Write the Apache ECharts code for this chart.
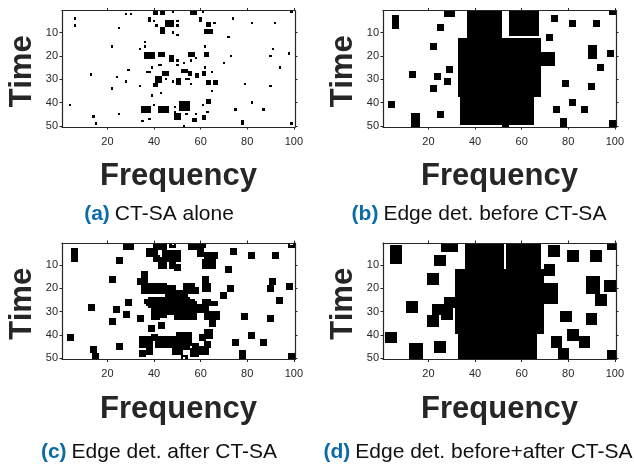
<!DOCTYPE html>
<html><head><meta charset="utf-8">
<style>html,body{margin:0;padding:0;background:#fff}#c{width:634px;height:464px}</style>
<script src="https://cdn.jsdelivr.net/npm/echarts@6/dist/echarts.min.js"></script>
</head><body><div id="c"></div>
<script>
// Every entry is a black block: [firstFrequency, lastFrequency, firstTime, lastTime]
const panelA = [[28,28,2,2],[30,30,2,2],[6,6,4,4],[6,6,7,7],[25,25,8,8],[38,38,4,5],[40,40,5,5],[41,41,7,7],[40,41,1,2],[43,44,1,2],[48,48,1,1],[45,48,5,7],[50,50,5,5],[50,50,7,7],[43,44,8,10],[48,48,10,10],[50,50,11,11],[56,58,1,2],[61,61,1,1],[60,60,4,5],[63,64,6,7],[66,66,6,6],[62,65,9,10],[74,74,4,4],[82,82,6,6],[92,92,6,6],[72,72,12,12],[99,99,1,1],
[22,22,16,16],[36,36,14,14],[36,36,16,16],[34,34,17,17],[62,62,16,16],[91,91,17,17],[98,98,19,19],[90,90,20,20],[73,73,20,20],[36,40,19,21],[42,44,19,20],[47,48,20,22],[55,57,19,20],[62,63,19,20],[56,56,22,22],[58,58,21,21],[50,50,22,22],[53,53,23,23],[50,50,24,24],[42,43,24,24],[39,39,25,25],[62,62,25,25],[70,70,23,23],[94,94,25,25],[29,29,26,26],
[52,54,26,27],[37,38,27,27],[44,46,27,28],[55,56,27,28],[61,62,27,28],[65,65,27,27],[58,59,28,29],[13,13,28,28],[24,24,29,29],[41,43,29,31],[45,45,30,30],[28,28,31,31],[48,48,31,31],[50,51,30,32],[54,55,30,30],[56,56,32,32],[63,64,31,32],[66,67,31,32],[40,41,32,33],[34,34,33,33],[79,79,32,32],[90,90,33,33],[22,22,34,34],[65,65,35,35],[43,43,36,36],[39,39,37,37],[63,64,39,40],[82,82,40,40],[4,4,41,41],[40,40,41,41],[61,61,41,41],[49,49,42,42],[51,55,40,43],[35,38,42,44],[42,46,42,44],[49,49,44,44],[75,75,43,43],[87,87,43,43],[63,63,44,44],[49,51,45,47],[25,25,45,45],[54,54,45,45],[58,58,45,45],[14,14,46,46],[38,38,47,47],[61,62,46,47],[57,58,47,48],[35,35,48,48],[78,78,48,49],[15,15,49,49],[53,53,50,50],[99,99,49,49]];

const panelB = [[37,51,1,12],[55,67,1,11],[33,68,13,37],[69,74,19,24],[34,65,38,49],[52,54,50,50],
[5,7,3,8],[27,31,1,3],[24,26,7,9],[21,23,15,17],[12,14,27,29],[28,30,25,27],[23,25,28,30],[27,29,30,32],[21,23,33,35],[3,5,40,42],[24,26,44,46],[13,16,45,50],
[73,75,3,5],[81,83,5,7],[91,93,5,7],[71,73,11,13],[98,100,1,2],[89,92,16,21],[97,99,18,20],[93,95,24,26],[78,80,31,33],[89,91,32,34],[81,83,39,41],[74,76,42,44],[86,88,42,44],[77,79,47,50],[98,100,48,50]];

const panelC = [[27,31,1,3],[5,7,3,8],[24,26,7,9],[37,39,3,6],[39,41,4,6],[40,42,6,8],[40,45,1,3],[47,49,2,2],[47,47,1,1],[49,49,1,1],[44,49,4,8],[49,51,4,8],[42,45,7,11],[47,49,9,11],[49,51,10,12],[55,59,1,3],[60,62,1,2],[59,61,3,6],[62,65,5,8],[65,67,5,7],[61,66,8,11],[73,75,3,5],[81,83,5,7],[91,93,5,7],[71,73,11,13],[98,100,2,2],[98,98,1,1],[100,100,1,1],
[21,23,15,17],[35,37,13,15],[35,37,15,17],[33,35,16,18],[61,63,15,17],[90,92,16,18],[97,99,18,20],[89,91,19,21],[72,74,19,21],[35,41,18,21],[41,45,18,21],[46,49,19,21],[35,52,22,22],[45,54,23,23],[53,57,18,22],[49,53,21,21],[57,59,20,22],[61,64,18,21],[69,71,22,24],[93,95,24,26],[28,30,25,27],
[38,55,24,24],[36,57,25,25],[36,58,26,26],[37,67,27,27],[38,63,28,28],[61,64,25,25],[61,67,26,26],[39,63,29,29],[39,62,30,30],[39,58,31,31],[39,45,32,32],[39,42,33,33],[12,14,27,29],[23,25,28,30],[27,29,30,32],[49,52,32,33],[53,58,32,33],[62,65,30,33],[65,68,30,33],[33,35,32,34],[78,80,31,33],[89,91,32,34],[21,23,33,35],[64,66,34,36],[42,44,35,37],[38,40,36,38],[62,65,38,41],[81,83,39,41],[3,5,40,42],[39,41,40,42],[60,62,40,42],[48,50,41,43],[50,56,39,44],[34,39,41,45],[41,47,41,45],[48,50,43,45],[74,76,42,44],[86,88,42,44],[62,64,43,45],[48,52,44,48],[24,26,44,46],[53,55,44,46],[57,59,44,46],[13,15,45,47],[37,39,46,48],[60,63,45,48],[56,59,46,49],[34,36,47,49],[77,79,47,50],[14,16,48,50],[52,54,49,49],[52,52,50,50],[54,54,50,50],[98,100,48,50]];

const panelD = [[36,52,1,11],[54,68,1,11],[32,69,12,39],[70,75,18,26],[70,74,10,14],[33,66,40,50],
[4,8,2,9],[26,32,1,4],[23,27,6,10],[20,24,14,18],[11,15,26,30],[27,31,24,28],[22,26,27,31],[26,30,29,33],[20,24,32,36],[2,6,39,43],[23,27,43,47],[12,17,44,50],
[72,76,2,6],[80,84,4,8],[90,94,4,8],[97,100,1,3],[88,93,15,22],[96,100,17,21],[92,96,23,27],[77,81,30,34],[88,92,31,35],[80,84,38,42],[73,77,41,45],[85,89,41,45],[76,80,46,50],[97,100,47,50]];

const freqTicks = [20, 40, 60, 80, 100];
const timeTicks = [10, 20, 30, 40, 50];
const captionTags = ['(a)', '(b)', '(c)', '(d)'];
const captionTexts = ['CT-SA alone', 'Edge det. before CT-SA', 'Edge det. after CT-SA', 'Edge det. before+after CT-SA'];
const panels = [panelA, panelB, panelC, panelD];

const layout = [
  {l: 62, t: 10.5, cx: 154, cy: 199},
  {l: 383, t: 10.5, cx: 474, cy: 199},
  {l: 62, t: 243, cx: 154, cy: 437},
  {l: 383, t: 243, cx: 473, cy: 437}
];
const W = 233, H = 116.5, ink = '#262626', font = '"Liberation Sans", Arial, sans-serif';

const grid = [], xAxis = [], yAxis = [], series = [], title = [];
panels.forEach((p, i) => {
  const g = layout[i];
  grid.push({left: g.l, top: g.t, width: W, height: H, show: false});
  const line = {show: true, onZero: false, lineStyle: {color: ink, width: 1.2}};
  const tick = vals => ({show: true, length: 2.5, inside: false, customValues: vals, lineStyle: {color: ink, width: 1}});
  const base = {type: 'value', gridIndex: i, splitLine: {show: false}, minorTick: {show: false}, z: 5};
  const xb = {...base, min: 0.5, max: 100.5, axisLine: line, axisTick: tick(freqTicks)};
  const yb = {...base, min: 0.5, max: 50.5, inverse: true, axisLine: line, axisTick: tick(timeTicks)};
  xAxis.push({...xb, position: 'bottom',
    axisLabel: {customValues: freqTicks, color: ink, fontSize: 11, fontFamily: font, margin: 9},
    name: 'Frequency', nameLocation: 'middle', nameGap: 34,
    nameTextStyle: {color: ink, fontSize: 31, fontWeight: 'bold', fontFamily: font}});
  xAxis.push({...xb, position: 'top', axisLabel: {show: false}});
  yAxis.push({...yb, position: 'left',
    axisLabel: {customValues: timeTicks, color: ink, fontSize: 11, fontFamily: font, margin: 4},
    name: 'Time', nameLocation: 'middle', nameGap: 24,
    nameTextStyle: {color: ink, fontSize: 31, fontWeight: 'bold', fontFamily: font, padding: [0, 5, 0, 0]}});
  yAxis.push({...yb, position: 'right', axisLabel: {show: false}});
  series.push({
    type: 'custom', xAxisIndex: i * 2, yAxisIndex: i * 2, clip: true, silent: true,
    data: p, encode: {x: [0, 1], y: [2, 3]},
    renderItem: (params, api) => {
      const a = api.coord([api.value(0) - 0.5, api.value(2) - 0.5]).map(Math.round);
      const b = api.coord([api.value(1) + 0.5, api.value(3) + 0.5]).map(Math.round);
      return {type: 'rect', shape: {x: a[0], y: a[1], width: b[0] - a[0], height: b[1] - a[1]}, style: {fill: '#000'}};
    }
  });
  title.push({
    text: '{b|' + captionTags[i] + '} {n|' + captionTexts[i] + '}',
    left: g.cx, top: g.cy, textAlign: 'center',
    textStyle: {rich: {
      b: {color: '#0a6ba8', fontWeight: 'bold', fontSize: 21, fontFamily: font},
      n: {color: '#111', fontWeight: 'normal', fontSize: 21, fontFamily: font}
    }}
  });
});
const chart = echarts.init(document.getElementById('c'), null, {renderer: 'canvas'});
chart.setOption({animation: false, backgroundColor: '#fff', title, grid, xAxis, yAxis, series});
</script></body></html>
